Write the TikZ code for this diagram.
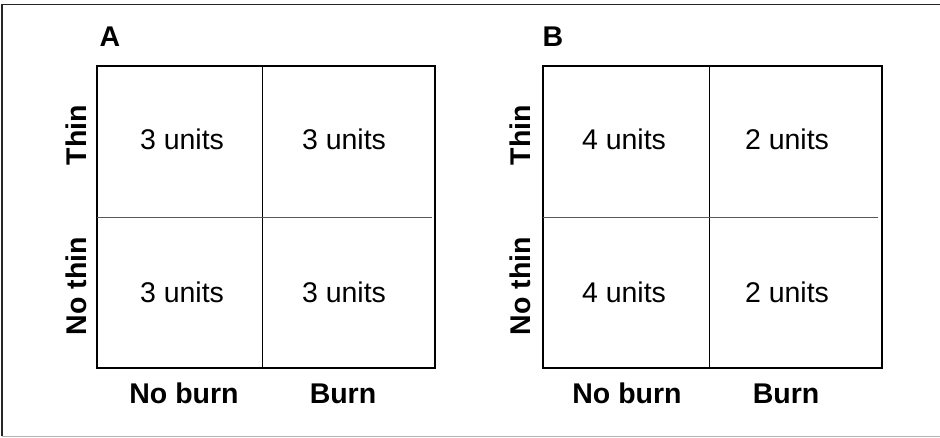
\documentclass[tikz,border=0pt]{standalone}
\usepackage{fontspec}
\setmainfont{Liberation Sans}
\begin{document}
\begin{tikzpicture}[x=1pt, y=-1pt,
        cell/.style={inner sep=0pt, anchor=base, font=\fontsize{28.5}{32}\selectfont},
        lab/.style={inner sep=0pt, anchor=base, font=\fontsize{28.5}{32}\selectfont\bfseries},
        outer/.style={line width=2.2pt},
        divider/.style={line width=1pt}]
            \useasboundingbox (0,0) rectangle (940,437);
            \draw[line width=1.3pt, black!85] (2,436) -- (2,4.5) -- (940,4.5);
            \draw[line width=1pt, gray!60] (2,436) -- (940,436);

            % panel A
            \node[lab] (labA) at (110, 46.5) {A};
            \draw[outer] (97,66) rectangle (435,368);
            \draw[divider] (262,66) -- (262,368);
            \draw[divider, black!65] (97,217) -- (432,217);
            \node[cell] (a11) at (182, 149) {3 units};
            \node[cell] (a12) at (344, 149) {3 units};
            \node[cell] (a21) at (182, 302) {3 units};
            \node[cell] (a22) at (344, 302) {3 units};
            \node[lab, rotate=90] (thinA) at (86.5, 135) {Thin};
            \node[lab, rotate=90] (nothinA) at (86.5, 286) {No thin};
            \node[lab] (noburnA) at (184, 403) {No burn};
            \node[lab] (burnA) at (343, 403) {Burn};

            % panel B
            \node[lab] (labB) at (553, 46.5) {B};
            \draw[outer] (543,66) rectangle (882,368);
            \draw[divider] (709,66) -- (709,368);
            \draw[divider, black!65] (543,217) -- (878,217);
            \node[cell] (b11) at (624, 149) {4 units};
            \node[cell] (b12) at (787, 149) {2 units};
            \node[cell] (b21) at (624, 302) {4 units};
            \node[cell] (b22) at (787, 302) {2 units};
            \node[lab, rotate=90] (thinB) at (530, 135) {Thin};
            \node[lab, rotate=90] (nothinB) at (530, 286) {No thin};
            \node[lab] (noburnB) at (627, 403) {No burn};
            \node[lab] (burnB) at (786, 403) {Burn};
        \end{tikzpicture}
\end{document}
